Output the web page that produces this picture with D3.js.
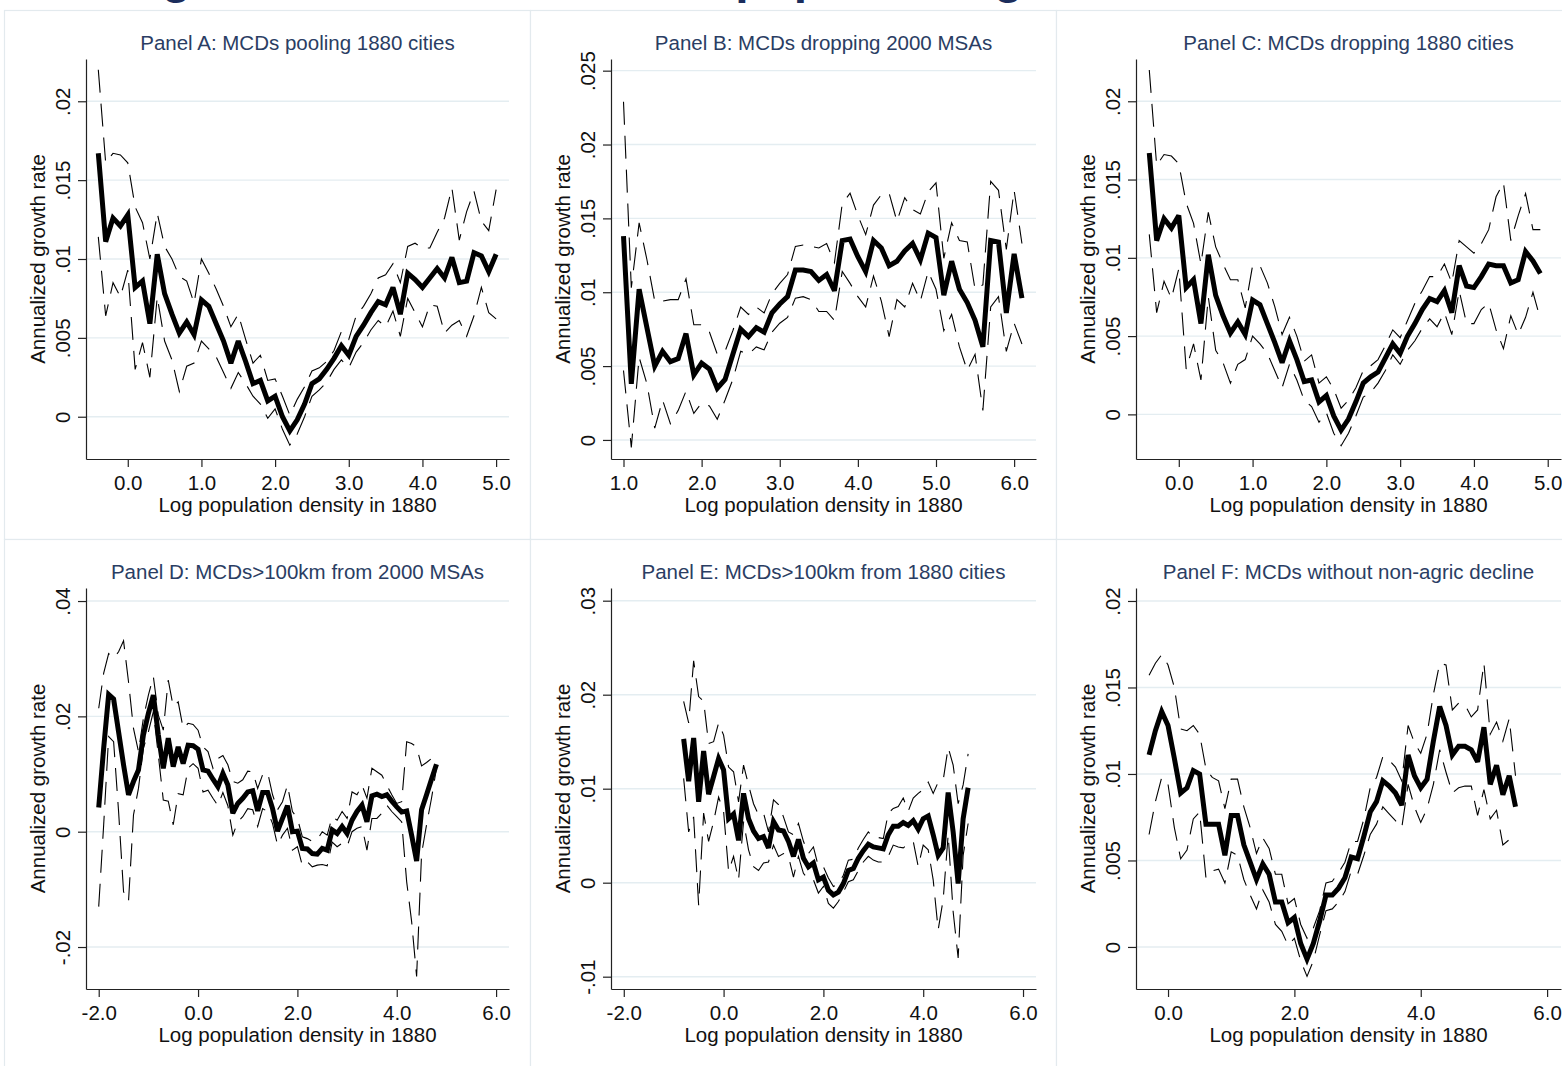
<!DOCTYPE html>
<html>
<head>
<meta charset="utf-8">
<script src="https://cdn.jsdelivr.net/npm/d3@7"></script>
<style>
  body { margin: 0; background: #fff; }
  svg { display: block; }
</style>
</head>
<body>
<svg id="chart" width="1562" height="1066"></svg>
<script>
// bin centres of log population density (shared by all panels)
const xGrid = [
  -2.0, -1.9, -1.8, -1.7, -1.6, -1.5, -1.4, -1.3, -1.2, -1.1,
  -1.0, -0.9, -0.8, -0.7, -0.6, -0.5, -0.4, -0.3, -0.2, -0.1,
  0.0, 0.1, 0.2, 0.3, 0.4, 0.5, 0.6, 0.7, 0.8, 0.9,
  1.0, 1.1, 1.2, 1.3, 1.4, 1.5, 1.6, 1.7, 1.8, 1.9,
  2.0, 2.1, 2.2, 2.3, 2.4, 2.5, 2.6, 2.7, 2.8, 2.9,
  3.0, 3.1, 3.2, 3.3, 3.4, 3.5, 3.6, 3.7, 3.8, 3.9,
  4.0, 4.1, 4.2, 4.3, 4.4, 4.5, 4.6, 4.7, 4.8, 4.9,
  5.0, 5.1, 5.2, 5.3, 5.4, 5.5, 5.6, 5.7, 5.8, 5.9,
  6.0, 6.1,
]

const figureTitle = 'Figure 7: Growth and 1880 population gradient'
const panelTitles = [
  'Panel A: MCDs pooling 1880 cities',
  'Panel B: MCDs dropping 2000 MSAs',
  'Panel C: MCDs dropping 1880 cities',
  'Panel D: MCDs>100km from 2000 MSAs',
  'Panel E: MCDs>100km from 1880 cities',
  'Panel F: MCDs without non-agric decline',
]
const xTitle = 'Log population density in 1880'
const yTitle = 'Annualized growth rate'

// Panel A, x from -0.4
const panelAEstimate = [0.0167, 0.0111, 0.0126, 0.0121, 0.0128, 0.0082, 0.0086, 0.0059, 0.0103, 0.0078, 0.0065, 0.0053, 0.0060, 0.0052, 0.0074, 0.0070, 0.0059, 0.0048, 0.0034, 0.0048, 0.0035, 0.0021, 0.0023, 0.0010, 0.0013, 0.0000, -0.0009, -0.0002, 0.0008, 0.0021, 0.0024, 0.0030, 0.0037, 0.0045, 0.0039, 0.0051, 0.0058, 0.0066, 0.0073, 0.0071, 0.0082, 0.0065, 0.0091, 0.0087, 0.0082, 0.0088, 0.0094, 0.0088, 0.0101, 0.0085, 0.0086, 0.0104, 0.0102, 0.0092, 0.0103]
const panelAUpper = [0.0220, 0.0161, 0.0167, 0.0166, 0.0161, 0.0133, 0.0123, 0.0100, 0.0129, 0.0108, 0.0100, 0.0089, 0.0086, 0.0072, 0.0100, 0.0091, 0.0081, 0.0070, 0.0057, 0.0065, 0.0049, 0.0034, 0.0039, 0.0023, 0.0024, 0.0013, 0.0001, 0.0011, 0.0019, 0.0029, 0.0031, 0.0035, 0.0042, 0.0054, 0.0049, 0.0064, 0.0070, 0.0078, 0.0088, 0.0090, 0.0097, 0.0085, 0.0108, 0.0110, 0.0107, 0.0107, 0.0117, 0.0126, 0.0145, 0.0112, 0.0130, 0.0143, 0.0124, 0.0118, 0.0144]
const panelALower = [0.0114, 0.0064, 0.0085, 0.0076, 0.0093, 0.0030, 0.0047, 0.0025, 0.0076, 0.0048, 0.0036, 0.0016, 0.0032, 0.0034, 0.0048, 0.0043, 0.0038, 0.0028, 0.0018, 0.0028, 0.0021, 0.0013, 0.0008, -0.0001, 0.0005, -0.0008, -0.0018, -0.0011, 0.0000, 0.0013, 0.0017, 0.0022, 0.0030, 0.0036, 0.0031, 0.0041, 0.0047, 0.0055, 0.0061, 0.0057, 0.0067, 0.0051, 0.0075, 0.0066, 0.0057, 0.0071, 0.0070, 0.0053, 0.0058, 0.0061, 0.0051, 0.0064, 0.0082, 0.0066, 0.0062]

// Panel B, x from 1.0
const panelBEstimate = [0.0138, 0.0038, 0.0102, 0.0076, 0.0050, 0.0060, 0.0053, 0.0055, 0.0072, 0.0044, 0.0052, 0.0048, 0.0035, 0.0041, 0.0058, 0.0075, 0.0070, 0.0076, 0.0073, 0.0086, 0.0092, 0.0097, 0.0115, 0.0115, 0.0114, 0.0108, 0.0112, 0.0101, 0.0135, 0.0136, 0.0124, 0.0114, 0.0135, 0.0130, 0.0118, 0.0121, 0.0128, 0.0133, 0.0122, 0.0140, 0.0137, 0.0098, 0.0121, 0.0102, 0.0093, 0.0081, 0.0063, 0.0135, 0.0134, 0.0086, 0.0126, 0.0096]
const panelBUpper = [0.0229, 0.0103, 0.0147, 0.0122, 0.0094, 0.0094, 0.0095, 0.0095, 0.0109, 0.0078, 0.0078, 0.0073, 0.0058, 0.0060, 0.0074, 0.0090, 0.0085, 0.0090, 0.0086, 0.0099, 0.0106, 0.0112, 0.0131, 0.0132, 0.0131, 0.0130, 0.0133, 0.0120, 0.0160, 0.0167, 0.0152, 0.0139, 0.0159, 0.0166, 0.0167, 0.0148, 0.0164, 0.0156, 0.0153, 0.0168, 0.0174, 0.0123, 0.0147, 0.0135, 0.0134, 0.0102, 0.0105, 0.0175, 0.0169, 0.0129, 0.0169, 0.0133]
const panelBLower = [0.0047, -0.0005, 0.0056, 0.0038, 0.0008, 0.0027, 0.0011, 0.0020, 0.0033, 0.0018, 0.0025, 0.0023, 0.0014, 0.0027, 0.0041, 0.0060, 0.0058, 0.0063, 0.0061, 0.0073, 0.0079, 0.0083, 0.0096, 0.0097, 0.0095, 0.0087, 0.0087, 0.0081, 0.0114, 0.0106, 0.0097, 0.0090, 0.0111, 0.0094, 0.0070, 0.0095, 0.0090, 0.0106, 0.0094, 0.0114, 0.0102, 0.0074, 0.0085, 0.0063, 0.0047, 0.0058, 0.0020, 0.0090, 0.0097, 0.0060, 0.0079, 0.0065]

// Panel C, x from -0.4
const panelCEstimate = [0.0167, 0.0111, 0.0125, 0.0119, 0.0127, 0.0081, 0.0086, 0.0058, 0.0102, 0.0076, 0.0063, 0.0052, 0.0059, 0.0051, 0.0073, 0.0070, 0.0058, 0.0046, 0.0033, 0.0047, 0.0035, 0.0021, 0.0022, 0.0008, 0.0012, -0.0001, -0.0010, -0.0003, 0.0008, 0.0020, 0.0024, 0.0027, 0.0036, 0.0045, 0.0039, 0.0050, 0.0058, 0.0067, 0.0074, 0.0072, 0.0079, 0.0065, 0.0095, 0.0082, 0.0081, 0.0088, 0.0096, 0.0095, 0.0095, 0.0084, 0.0086, 0.0104, 0.0098, 0.0090]
const panelCUpper = [0.0220, 0.0159, 0.0166, 0.0165, 0.0160, 0.0135, 0.0122, 0.0096, 0.0129, 0.0107, 0.0096, 0.0086, 0.0086, 0.0068, 0.0095, 0.0095, 0.0084, 0.0069, 0.0051, 0.0062, 0.0050, 0.0034, 0.0038, 0.0020, 0.0024, 0.0016, 0.0004, 0.0009, 0.0017, 0.0028, 0.0031, 0.0035, 0.0044, 0.0054, 0.0049, 0.0060, 0.0071, 0.0079, 0.0088, 0.0088, 0.0096, 0.0084, 0.0111, 0.0107, 0.0103, 0.0109, 0.0118, 0.0139, 0.0148, 0.0111, 0.0127, 0.0141, 0.0118, 0.0118]
const panelCLower = [0.0115, 0.0065, 0.0085, 0.0074, 0.0093, 0.0029, 0.0045, 0.0022, 0.0075, 0.0041, 0.0033, 0.0020, 0.0032, 0.0035, 0.0050, 0.0045, 0.0039, 0.0028, 0.0017, 0.0032, 0.0022, 0.0009, 0.0005, -0.0005, 0.0001, -0.0012, -0.0020, -0.0012, -0.0001, 0.0011, 0.0014, 0.0020, 0.0028, 0.0038, 0.0032, 0.0041, 0.0047, 0.0055, 0.0061, 0.0056, 0.0065, 0.0051, 0.0079, 0.0058, 0.0058, 0.0067, 0.0071, 0.0054, 0.0042, 0.0063, 0.0051, 0.0062, 0.0078, 0.0061]

// Panel D, x from -2.0
const panelDEstimate = [0.0042, 0.0145, 0.0238, 0.0230, 0.0173, 0.0116, 0.0064, 0.0087, 0.0107, 0.0168, 0.0205, 0.0237, 0.0168, 0.0110, 0.0162, 0.0113, 0.0147, 0.0118, 0.0150, 0.0149, 0.0143, 0.0107, 0.0105, 0.0091, 0.0078, 0.0101, 0.0081, 0.0032, 0.0049, 0.0058, 0.0069, 0.0071, 0.0036, 0.0068, 0.0068, 0.0040, 0.0001, 0.0023, 0.0045, 0.0000, 0.0001, -0.0029, -0.0030, -0.0038, -0.0039, -0.0029, -0.0032, 0.0003, -0.0003, 0.0009, -0.0003, 0.0020, 0.0035, 0.0046, 0.0017, 0.0062, 0.0065, 0.0061, 0.0064, 0.0053, 0.0043, 0.0034, 0.0036, -0.0006, -0.0051, 0.0038, 0.0064, 0.0091, 0.0117]
const panelDUpper = [0.0214, 0.0275, 0.0309, 0.0301, 0.0312, 0.0331, 0.0260, 0.0179, 0.0139, 0.0197, 0.0237, 0.0269, 0.0202, 0.0176, 0.0263, 0.0217, 0.0225, 0.0179, 0.0188, 0.0186, 0.0176, 0.0147, 0.0139, 0.0110, 0.0127, 0.0132, 0.0116, 0.0087, 0.0084, 0.0090, 0.0105, 0.0104, 0.0075, 0.0099, 0.0103, 0.0064, 0.0038, 0.0052, 0.0081, 0.0035, 0.0023, -0.0009, -0.0012, -0.0017, -0.0014, 0.0000, -0.0006, 0.0026, 0.0020, 0.0035, 0.0023, 0.0069, 0.0064, 0.0081, 0.0058, 0.0110, 0.0104, 0.0098, 0.0081, 0.0064, 0.0049, 0.0052, 0.0156, 0.0153, 0.0147, 0.0114, 0.0120, 0.0127, 0.0124]
const panelDLower = [-0.0130, 0.0012, 0.0165, 0.0156, 0.0035, -0.0104, -0.0121, 0.0029, 0.0075, 0.0145, 0.0173, 0.0208, 0.0133, 0.0055, 0.0053, 0.0012, 0.0066, 0.0064, 0.0110, 0.0118, 0.0110, 0.0069, 0.0072, 0.0058, 0.0045, 0.0068, 0.0045, -0.0006, 0.0017, 0.0026, 0.0040, 0.0038, 0.0009, 0.0040, 0.0035, 0.0014, -0.0023, -0.0006, 0.0006, -0.0032, -0.0026, -0.0059, -0.0052, -0.0061, -0.0058, -0.0057, -0.0059, -0.0018, -0.0026, -0.0020, -0.0026, 0.0000, 0.0006, 0.0009, -0.0032, 0.0023, 0.0023, 0.0032, 0.0046, 0.0035, 0.0026, 0.0017, -0.0087, -0.0156, -0.0251, -0.0038, 0.0012, 0.0058, 0.0110]

// Panel E, x from -0.8
const panelEEstimate = [0.0153, 0.0108, 0.0154, 0.0086, 0.0140, 0.0094, 0.0113, 0.0132, 0.0120, 0.0068, 0.0073, 0.0045, 0.0095, 0.0068, 0.0055, 0.0047, 0.0049, 0.0037, 0.0065, 0.0056, 0.0055, 0.0044, 0.0028, 0.0046, 0.0026, 0.0017, 0.0021, 0.0003, 0.0006, -0.0008, -0.0013, -0.0010, -0.0001, 0.0013, 0.0015, 0.0026, 0.0034, 0.0041, 0.0038, 0.0037, 0.0036, 0.0051, 0.0060, 0.0060, 0.0064, 0.0061, 0.0066, 0.0057, 0.0068, 0.0071, 0.0051, 0.0029, 0.0037, 0.0096, 0.0054, -0.0001, 0.0068, 0.0101]
const panelEUpper = [0.0193, 0.0170, 0.0236, 0.0198, 0.0193, 0.0148, 0.0150, 0.0170, 0.0157, 0.0123, 0.0118, 0.0086, 0.0125, 0.0104, 0.0084, 0.0072, 0.0074, 0.0054, 0.0088, 0.0083, 0.0070, 0.0054, 0.0051, 0.0063, 0.0044, 0.0031, 0.0038, 0.0017, 0.0017, 0.0005, -0.0004, -0.0001, 0.0008, 0.0024, 0.0025, 0.0037, 0.0046, 0.0054, 0.0048, 0.0048, 0.0047, 0.0074, 0.0079, 0.0081, 0.0090, 0.0076, 0.0090, 0.0095, 0.0099, 0.0107, 0.0095, 0.0107, 0.0109, 0.0144, 0.0125, 0.0084, 0.0104, 0.0137]
const panelELower = [0.0111, 0.0054, 0.0070, -0.0024, 0.0074, 0.0044, 0.0065, 0.0091, 0.0076, 0.0012, 0.0028, 0.0003, 0.0065, 0.0035, 0.0017, 0.0013, 0.0021, 0.0022, 0.0040, 0.0028, 0.0031, 0.0028, 0.0006, 0.0028, 0.0010, 0.0003, 0.0003, -0.0011, -0.0004, -0.0022, -0.0027, -0.0020, -0.0010, 0.0001, 0.0003, 0.0013, 0.0022, 0.0028, 0.0024, 0.0022, 0.0022, 0.0028, 0.0040, 0.0038, 0.0037, 0.0041, 0.0044, 0.0017, 0.0040, 0.0035, 0.0003, -0.0050, -0.0018, 0.0051, -0.0031, -0.0080, 0.0029, 0.0063]

// Panel F, x from -0.3
const panelFEstimate = [0.0111, 0.0125, 0.0136, 0.0128, 0.0109, 0.0089, 0.0092, 0.0102, 0.0100, 0.0071, 0.0071, 0.0071, 0.0053, 0.0076, 0.0076, 0.0059, 0.0049, 0.0039, 0.0048, 0.0042, 0.0026, 0.0026, 0.0014, 0.0017, 0.0002, -0.0007, 0.0002, 0.0015, 0.0030, 0.0030, 0.0034, 0.0040, 0.0052, 0.0051, 0.0064, 0.0078, 0.0084, 0.0096, 0.0093, 0.0089, 0.0082, 0.0111, 0.0099, 0.0092, 0.0097, 0.0119, 0.0139, 0.0128, 0.0111, 0.0116, 0.0116, 0.0114, 0.0107, 0.0127, 0.0094, 0.0105, 0.0088, 0.0099, 0.0081]
const panelFUpper = [0.0157, 0.0164, 0.0169, 0.0163, 0.0150, 0.0126, 0.0125, 0.0128, 0.0123, 0.0103, 0.0098, 0.0096, 0.0080, 0.0097, 0.0097, 0.0081, 0.0069, 0.0054, 0.0063, 0.0057, 0.0042, 0.0042, 0.0025, 0.0028, 0.0013, 0.0005, 0.0011, 0.0021, 0.0037, 0.0038, 0.0043, 0.0049, 0.0061, 0.0061, 0.0074, 0.0092, 0.0098, 0.0110, 0.0108, 0.0104, 0.0096, 0.0128, 0.0118, 0.0112, 0.0123, 0.0146, 0.0164, 0.0163, 0.0137, 0.0141, 0.0140, 0.0133, 0.0137, 0.0164, 0.0123, 0.0130, 0.0119, 0.0132, 0.0099]
const panelFLower = [0.0065, 0.0084, 0.0098, 0.0094, 0.0069, 0.0051, 0.0056, 0.0074, 0.0078, 0.0040, 0.0044, 0.0045, 0.0037, 0.0055, 0.0053, 0.0039, 0.0030, 0.0022, 0.0033, 0.0026, 0.0013, 0.0009, 0.0001, 0.0005, -0.0008, -0.0017, -0.0008, 0.0007, 0.0021, 0.0022, 0.0026, 0.0032, 0.0044, 0.0042, 0.0053, 0.0065, 0.0071, 0.0081, 0.0077, 0.0073, 0.0069, 0.0094, 0.0081, 0.0072, 0.0080, 0.0094, 0.0114, 0.0101, 0.0089, 0.0092, 0.0093, 0.0093, 0.0076, 0.0091, 0.0074, 0.0079, 0.0059, 0.0062, 0.0058]

// tick values
const panelAXTicks = [0, 1, 2, 3, 4, 5]
const panelAYTicks = [0, 0.005, 0.01, 0.015, 0.02]
const panelBXTicks = [1, 2, 3, 4, 5, 6]
const panelBYTicks = [0, 0.005, 0.01, 0.015, 0.02, 0.025]
const panelCXTicks = [0, 1, 2, 3, 4, 5]
const panelCYTicks = [0, 0.005, 0.01, 0.015, 0.02]
const panelDXTicks = [-2, 0, 2, 4, 6]
const panelDYTicks = [-0.02, 0, 0.02, 0.04]
const panelEXTicks = [-2, 0, 2, 4, 6]
const panelEYTicks = [-0.01, 0, 0.01, 0.02, 0.03]
const panelFXTicks = [0, 2, 4, 6]
const panelFYTicks = [0, 0.005, 0.01, 0.015, 0.02]

// layout
const fontFamily = "'Liberation Sans', Arial, Helvetica, sans-serif"
const fontSize = 20.5
const navy = '#2a3d63'
const gridColor = '#e4edf1'
const cellX = [4, 530, 1056]
const cellY = [10, 539]
const cellW = 526
const cellH = 529
const plotLeft = [86, 611, 1136]
const plotRight = [509, 1036, 1561]
const plotTop = [59, 588]
const plotBottom = [459, 989]

const panels = [
  { title: panelTitles[0], col: 0, row: 0, x0: -0.4, est: panelAEstimate, upper: panelAUpper, lower: panelALower, xTicks: panelAXTicks, yTicks: panelAYTicks, xDomain: [-0.567, 5.175], yDomain: [-0.00268, 0.02268] },
  { title: panelTitles[1], col: 1, row: 0, x0: 1.0, est: panelBEstimate, upper: panelBUpper, lower: panelBLower, xTicks: panelBXTicks, yTicks: panelBYTicks, xDomain: [0.84, 6.28], yDomain: [-0.00129, 0.02579] },
  { title: panelTitles[2], col: 2, row: 0, x0: -0.4, est: panelCEstimate, upper: panelCUpper, lower: panelCLower, xTicks: panelCXTicks, yTicks: panelCYTicks, xDomain: [-0.58, 5.18], yDomain: [-0.00285, 0.0227] },
  { title: panelTitles[3], col: 0, row: 1, x0: -2.0, est: panelDEstimate, upper: panelDUpper, lower: panelDLower, xTicks: panelDXTicks, yTicks: panelDYTicks, xDomain: [-2.256, 6.26], yDomain: [-0.02728, 0.04226] },
  { title: panelTitles[4], col: 1, row: 1, x0: -0.8, est: panelEEstimate, upper: panelEUpper, lower: panelELower, xTicks: panelEXTicks, yTicks: panelEYTicks, xDomain: [-2.256, 6.26], yDomain: [-0.01131, 0.03135] },
  { title: panelTitles[5], col: 2, row: 1, x0: -0.3, est: panelFEstimate, upper: panelFUpper, lower: panelFLower, xTicks: panelFXTicks, yTicks: panelFYTicks, xDomain: [-0.507, 6.22], yDomain: [-0.00243, 0.02075] },
]

// stata style labels: .005, 0, -.02
const yLabel = (v) => (v === 0 ? '0' : String(v).replace('0.', '.'))

const svg = d3.select('#chart')

svg.append('rect')
  .attr('width', 1562)
  .attr('height', 1066)
  .attr('fill', '#fff')

// figure title, mostly above the page edge
svg.append('text')
  .attr('x', 119)
  .attr('y', -7)
  .attr('font-family', fontFamily)
  .attr('font-size', 48)
  .attr('font-weight', 'bold')
  .attr('fill', '#1b2d5c')
  .text(figureTitle)

panels.forEach((p) => {
  const left = plotLeft[p.col]
  const right = plotRight[p.col]
  const top = plotTop[p.row]
  const bottom = plotBottom[p.row]

  const g = svg.append('g').attr('class', 'panel')

  // cell border
  g.append('rect')
    .attr('x', cellX[p.col] + 0.5)
    .attr('y', cellY[p.row] + 0.5)
    .attr('width', cellW)
    .attr('height', cellH)
    .attr('fill', '#fff')
    .attr('stroke', '#e3eaee')
    .attr('stroke-width', 1.2)

  const x = d3.scaleLinear().domain(p.xDomain).range([left, right])
  const y = d3.scaleLinear().domain(p.yDomain).range([bottom, top])

  // gridlines
  g.append('g')
    .selectAll('line')
    .data(p.yTicks)
    .join('line')
    .attr('x1', left)
    .attr('x2', right)
    .attr('y1', (d) => y(d))
    .attr('y2', (d) => y(d))
    .attr('stroke', gridColor)
    .attr('stroke-width', 1.4)

  // y axis
  const yAxis = g.append('g')
    .attr('transform', `translate(${left},0)`)
    .call(d3.axisLeft(y).tickValues(p.yTicks).tickSize(8).tickSizeOuter(0).tickFormat(yLabel))
  yAxis.attr('font-family', fontFamily).attr('font-size', fontSize)
  yAxis.selectAll('path, line').attr('stroke', '#222').attr('stroke-width', 1.2)
  yAxis.selectAll('text')
    .attr('x', null)
    .attr('dy', null)
    .attr('fill', '#111')
    .attr('text-anchor', 'middle')
    .attr('transform', 'translate(-16,0) rotate(-90)')

  // x axis
  const xAxis = g.append('g')
    .attr('transform', `translate(0,${bottom})`)
    .call(d3.axisBottom(x).tickValues(p.xTicks).tickSize(8).tickSizeOuter(0).tickFormat((d) => d.toFixed(1)))
  xAxis.attr('font-family', fontFamily).attr('font-size', fontSize)
  xAxis.selectAll('path, line').attr('stroke', '#222').attr('stroke-width', 1.2)
  xAxis.selectAll('text')
    .attr('y', 31)
    .attr('dy', null)
    .attr('fill', '#111')

  // axis titles
  g.append('text')
    .attr('x', (left + right) / 2)
    .attr('y', bottom + 53)
    .attr('text-anchor', 'middle')
    .attr('font-family', fontFamily)
    .attr('font-size', fontSize)
    .attr('fill', '#111')
    .text(xTitle)

  g.append('text')
    .attr('transform', `translate(${left - 41},${(top + bottom) / 2}) rotate(-90)`)
    .attr('text-anchor', 'middle')
    .attr('font-family', fontFamily)
    .attr('font-size', fontSize)
    .attr('fill', '#111')
    .text(yTitle)

  // panel title
  g.append('text')
    .attr('x', (left + right) / 2)
    .attr('y', top - 9)
    .attr('text-anchor', 'middle')
    .attr('font-family', fontFamily)
    .attr('font-size', fontSize)
    .attr('fill', navy)
    .text(p.title)

  // series
  const start = xGrid.indexOf(p.x0)
  const rows = p.est.map((v, i) => ({
    x: xGrid[start + i],
    est: v,
    upper: p.upper[i],
    lower: p.lower[i],
  }))

  const lineFor = (key) => d3.line()
    .x((d) => x(d.x))
    .y((d) => y(d[key]))

  ;['upper', 'lower'].forEach((key) => {
    g.append('path')
      .datum(rows)
      .attr('d', lineFor(key))
      .attr('fill', 'none')
      .attr('stroke', '#000')
      .attr('stroke-width', 1.1)
      .attr('stroke-dasharray', '23,11')
  })

  g.append('path')
    .datum(rows)
    .attr('d', lineFor('est'))
    .attr('fill', 'none')
    .attr('stroke', '#000')
    .attr('stroke-width', 5)
    .attr('stroke-linejoin', 'miter')
    .attr('stroke-miterlimit', 3)
})
</script>
</body>
